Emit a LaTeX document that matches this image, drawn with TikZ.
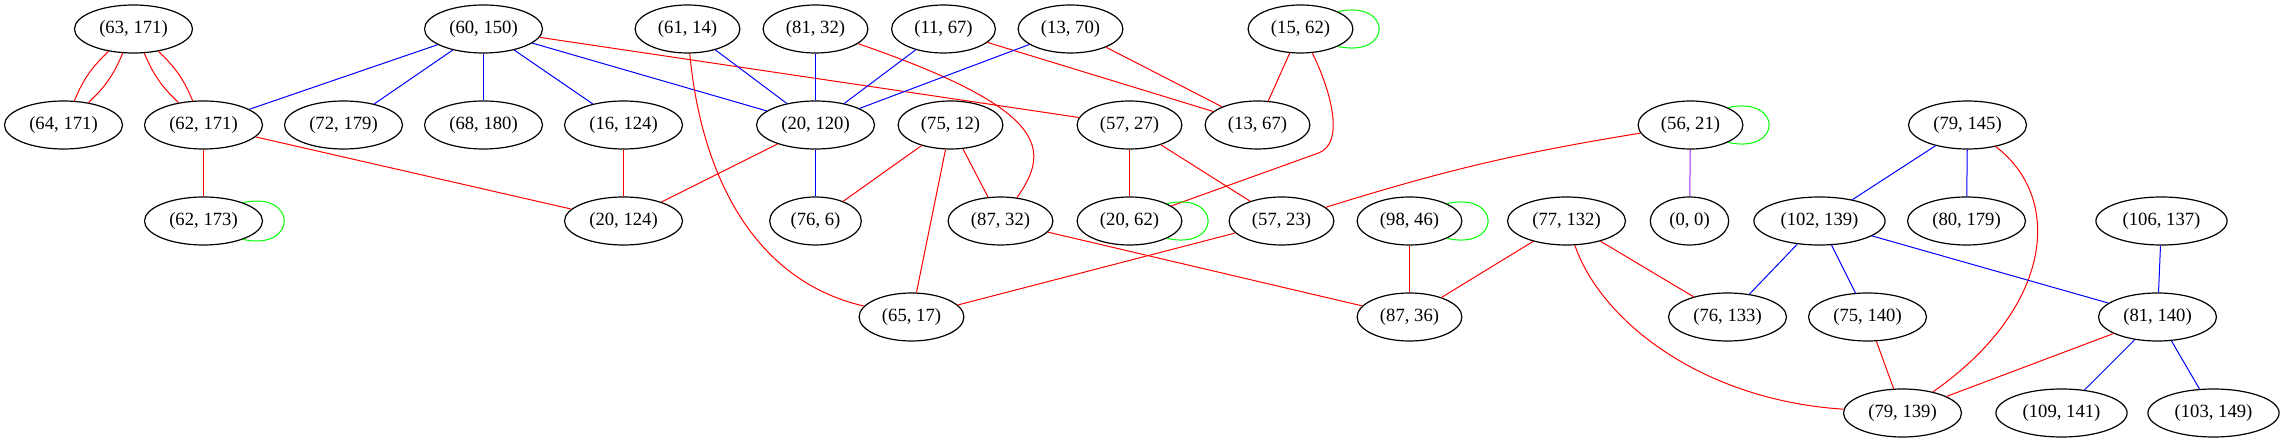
\documentclass[tikz,border=0pt]{standalone}
\usepackage{fontspec}
\setmainfont{Liberation Serif}
\usetikzlibrary{shapes.geometric}
\definecolor{gvpurple}{RGB}{160,32,240}
\begin{document}
\begin{tikzpicture}[x=1pt,y=-1pt,
  nd/.style={ellipse, draw, line width=1.2pt, minimum height=48pt, inner xsep=7.5pt, inner ysep=2pt,
    font=\fontsize{18.67pt}{20pt}\selectfont},
  er/.style={draw=red, line width=1pt},
  eb/.style={draw=blue, line width=1pt},
  eg/.style={draw=green, line width=1pt},
  ep/.style={draw=gvpurple, line width=1pt}]
\useasboundingbox (0,0) rectangle (2284,443);
\begin{scope}[shift={(0.5,0)}]
% row 1
\node[nd] (a63171) at (133,29) {(63, 171)};
\node[nd] (a60150) at (483,29) {(60, 150)};
\node[nd] (a6114) at (687,29) {(61, 14)};
\node[nd] (a8132) at (815,29) {(81, 32)};
\node[nd] (a1167) at (943,29) {(11, 67)};
\node[nd] (a1370) at (1070,29) {(13, 70)};
\node[nd] (a1562) at (1300,29) {(15, 62)};
% row 2
\node[nd] (a64171) at (63,125) {(64, 171)};
\node[nd] (a62171) at (203,125) {(62, 171)};
\node[nd] (a72179) at (343,125) {(72, 179)};
\node[nd] (a68180) at (483,125) {(68, 180)};
\node[nd] (a16124) at (623,125) {(16, 124)};
\node[nd] (a20120) at (815,125) {(20, 120)};
\node[nd] (a7512) at (950,125) {(75, 12)};
\node[nd] (a5727) at (1129,125) {(57, 27)};
\node[nd] (a1367) at (1257,125) {(13, 67)};
\node[nd] (a5621) at (1690,125) {(56, 21)};
\node[nd] (a79145) at (1967,125) {(79, 145)};
% row 3
\node[nd] (a62173) at (203,221) {(62, 173)};
\node[nd] (a20124) at (623,221) {(20, 124)};
\node[nd] (a766) at (815,221) {(76, 6)};
\node[nd] (a8732) at (1000,221) {(87, 32)};
\node[nd] (a2062) at (1129,221) {(20, 62)};
\node[nd] (a5723) at (1281,221) {(57, 23)};
\node[nd] (a9846) at (1409,221) {(98, 46)};
\node[nd] (a77132) at (1566,221) {(77, 132)};
\node[nd] (a00) at (1689,221) {(0, 0)};
\node[nd] (a102139) at (1819,221) {(102, 139)};
\node[nd] (a80179) at (1966,221) {(80, 179)};
\node[nd] (a106137) at (2161,221) {(106, 137)};
% row 4
\node[nd] (a6517) at (911,317) {(65, 17)};
\node[nd] (a8736) at (1409,317) {(87, 36)};
\node[nd] (a76133) at (1727,317) {(76, 133)};
\node[nd] (a75140) at (1867,317) {(75, 140)};
\node[nd] (a81140) at (2157,317) {(81, 140)};
% row 5
\node[nd] (a79139) at (1902,413) {(79, 139)};
\node[nd] (a109141) at (2061,413) {(109, 141)};
\node[nd] (a103149) at (2213,413) {(103, 149)};

% edges
\draw[er] (a63171) to[bend left=12] (a64171);
\draw[er] (a63171) to[bend right=12] (a64171);
\draw[er] (a63171) to[bend left=12] (a62171);
\draw[er] (a63171) to[bend right=12] (a62171);
\draw[eb] (a60150) -- (a62171);
\draw[eb] (a60150) -- (a72179);
\draw[eb] (a60150) -- (a68180);
\draw[eb] (a60150) -- (a16124);
\draw[eb] (a60150) -- (a20120);
\draw[er] (a60150) -- (a5727);
\draw[er] (a62171) -- (a62173);
\draw[er] (a62171) -- (a20124);
\draw[eg] (a62173.25) .. controls +(55,-12) and +(55,12) .. (a62173.-25);
\draw[eb] (a6114) -- (a20120);
\draw[er] (a6114) .. controls (700,170) and (750,280) .. (a6517);
\draw[eb] (a8132) -- (a20120);
\draw[er] (a8132) .. controls (1050,110) and (1050,150) .. (a8732);
\draw[eb] (a1167) -- (a20120);
\draw[er] (a1167) -- (a1367);
\draw[eb] (a1370) -- (a20120);
\draw[er] (a1370) -- (a1367);
\draw[er] (a1562) -- (a1367);
\draw[er] (a1562) .. controls (1330,90) and (1345,143) .. (1318,153) -- (a2062);
\draw[eg] (a1562.25) .. controls +(55,-12) and +(55,12) .. (a1562.-25);
\draw[er] (a16124) -- (a20124);
\draw[er] (a20120) -- (a20124);
\draw[eb] (a20120) -- (a766);
\draw[er] (a7512) -- (a766);
\draw[er] (a7512) -- (a8732);
\draw[er] (a7512) -- (a6517);
\draw[er] (a5727) -- (a2062);
\draw[er] (a5727) -- (a5723);
\draw[eg] (a2062.25) .. controls +(55,-12) and +(55,12) .. (a2062.-25);
\draw[er] (a5723) -- (a6517);
\draw[er] (a5621) to[bend right=4] (a5723);
\draw[ep] (a5621) -- (a00);
\draw[eg] (a5621.25) .. controls +(55,-12) and +(55,12) .. (a5621.-25);
\draw[er] (a8732) -- (a8736);
\draw[er] (a9846) -- (a8736);
\draw[eg] (a9846.25) .. controls +(55,-12) and +(55,12) .. (a9846.-25);
\draw[er] (a77132) -- (a8736);
\draw[er] (a77132) -- (a76133);
\draw[er] (a77132) .. controls (1600,320) and (1700,400) .. (a79139);
\draw[eb] (a79145) -- (a102139);
\draw[eb] (a79145) -- (a80179);
\draw[er] (a79145) .. controls (2065,200) and (2050,310) .. (a79139);
\draw[eb] (a102139) -- (a76133);
\draw[eb] (a102139) -- (a75140);
\draw[eb] (a102139) -- (a81140);
\draw[eb] (a106137) -- (a81140);
\draw[er] (a75140) -- (a79139);
\draw[er] (a81140) -- (a79139);
\draw[eb] (a81140) -- (a109141);
\draw[eb] (a81140) -- (a103149);
\end{scope}
\end{tikzpicture}
\end{document}
